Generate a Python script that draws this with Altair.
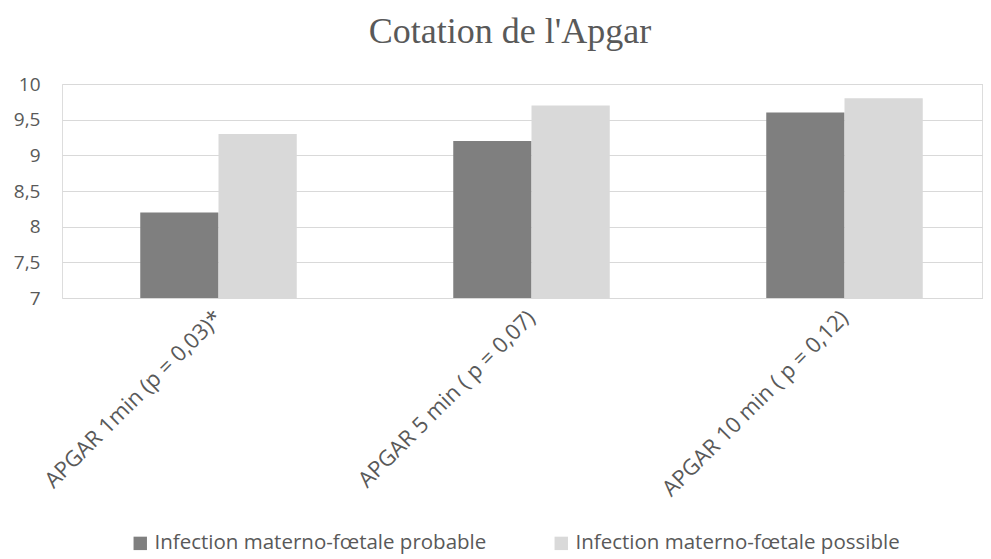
import altair as alt
import pandas as pd

title_text = "Cotation de l'Apgar"
categories = ["APGAR 1min (p = 0,03)*", "APGAR 5 min ( p = 0,07)", "APGAR 10 min ( p = 0,12)"]
series = ["Infection materno-fœtale probable", "Infection materno-fœtale possible"]
probable = [8.2, 9.2, 9.6]
possible = [9.3, 9.7, 9.8]
colors = ["#7F7F7F", "#D9D9D9"]
y_ticks = [7, 7.5, 8, 8.5, 9, 9.5, 10]

rows = []
for c, a, b in zip(categories, probable, possible):
    rows.append({"cat": c, "serie": series[0], "val": a})
    rows.append({"cat": c, "serie": series[1], "val": b})
df = pd.DataFrame(rows)

TXT = "#595959"

bars = alt.Chart(df).mark_bar().encode(
    x=alt.X("cat:N", sort=categories, title=None,
            scale=alt.Scale(range=[0, 939], paddingInner=0.5, paddingOuter=0.25),
            axis=alt.Axis(labelAngle=-45, labelAlign="right", labelBaseline="middle",
                          labelPadding=16, labelLimit=400, ticks=False, domain=False,
                          labelFont="Open Sans", labelFontSize=22, labelColor=TXT)),
    xOffset=alt.XOffset("serie:N", sort=series, scale=alt.Scale(paddingInner=0, paddingOuter=0)),
    y=alt.Y("val:Q", title=None,
            scale=alt.Scale(domain=[7, 10], nice=False, zero=False),
            axis=alt.Axis(values=y_ticks,
                          labelExpr="replace(toString(datum.value), '.', ',')",
                          ticks=False, domain=False, gridColor="#D9D9D9", gridWidth=1,
                          labelPadding=22, labelFont="Open Sans", labelFontSize=19,
                          labelColor=TXT)),
    y2=alt.datum(7),
    color=alt.Color("serie:N", sort=series,
                    scale=alt.Scale(domain=series, range=colors),
                    legend=alt.Legend(orient="none", legendX=68, legendY=449,
                                      direction="horizontal", title=None,
                                      symbolType="square", symbolSize=180,
                                      symbolStrokeWidth=0, symbolOpacity=1,
                                      labelFont="Open Sans", labelFontSize=20.5,
                                      labelColor=TXT, labelOffset=4,
                                      columnPadding=64, padding=0, labelLimit=600)),
)

title = alt.Chart(pd.DataFrame({"t": [title_text]})).mark_text(
    font="Liberation Serif", fontSize=36, color=TXT, align="center", baseline="alphabetic"
).encode(
    text="t:N",
    x=alt.value(448),
    y=alt.value(-41),
)

chart = alt.layer(bars, title).properties(
    width=920, height=214,
    autosize=alt.AutoSizeParams(type="none"),
    padding={"left": 54, "top": 76, "right": 1, "bottom": 261},
).configure_view(stroke=None).configure(background="white")

chart.save("out.html", embed_options={"renderer": "svg", "actions": False})
